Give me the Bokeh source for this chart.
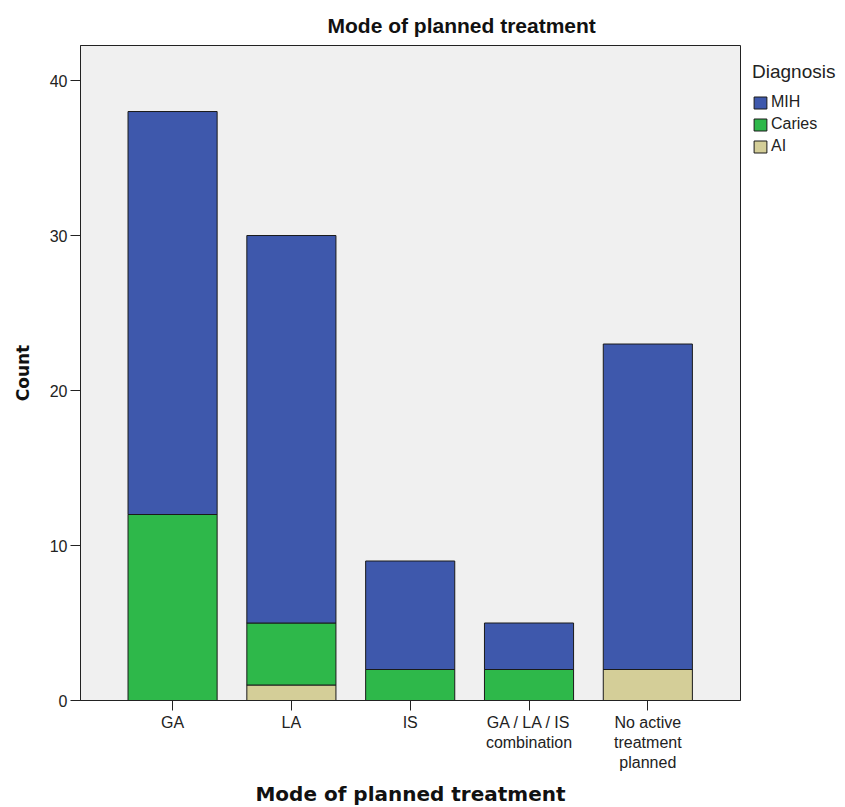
from bokeh.plotting import figure
from bokeh.models import (Legend, LegendItem, FixedTicker, Range1d, Title,
                          ColumnDataSource)
from bokeh.embed import file_html
from bokeh.resources import INLINE

# ---- data ----
categories = ["GA", "LA", "IS", "GA / LA / IS\ncombination",
              "No active\ntreatment\nplanned"]
ai_counts = [0, 1, 0, 0, 2]
caries_counts = [12, 4, 2, 2, 0]
mih_counts = [26, 25, 7, 3, 21]
y_ticks = [0, 10, 20, 30, 40]
legend_order = ["MIH", "Caries", "AI"]
colors = {"MIH": "#3E58AC", "Caries": "#2EB84A", "AI": "#D4CE98"}

xs = list(range(1, len(categories) + 1))
source = ColumnDataSource(dict(x=xs, AI=ai_counts, Caries=caries_counts,
                               MIH=mih_counts))

p = figure(frame_width=660, frame_height=655, output_backend="svg",
           toolbar_location=None,
           x_range=Range1d(0.225, 5.78), y_range=Range1d(0, 42.26),
           min_border_left=80, min_border_right=105, min_border_top=45,
           min_border_bottom=107)
p.background_fill_color = "#F0F0F0"
p.border_fill_color = "white"
p.outline_line_color = "#222222"
p.outline_line_width = 1
p.grid.visible = False

renderers = p.vbar_stack(["AI", "Caries", "MIH"], x="x", width=0.75,
                         source=source,
                         fill_color=[colors["AI"], colors["Caries"], colors["MIH"]],
                         line_color="#1a1a1a", line_width=1)
rmap = {"AI": renderers[0], "Caries": renderers[1], "MIH": renderers[2]}

p.title = Title(text="Mode of planned treatment", align="left", offset=247,
                text_font="Liberation Sans", text_font_size="21px",
                text_font_style="bold", text_color="#111111", standoff=18)

# x axis
p.xaxis.ticker = FixedTicker(ticks=xs)
p.xaxis.major_label_overrides = {x: c for x, c in zip(xs, categories)}
p.xaxis.major_tick_out = 10
p.xaxis.major_tick_in = 0
p.xaxis.minor_tick_out = 0
p.xaxis.minor_tick_in = 0
p.xaxis.axis_line_color = "#222222"
p.xaxis.major_tick_line_color = "#222222"
p.xaxis.major_label_text_font = "Liberation Sans"
p.xaxis.major_label_text_font_size = "16px"
p.xaxis.major_label_text_color = "#222222"
p.xaxis.major_label_standoff = 3
p.xaxis.axis_label = "Mode of planned treatment"
p.xaxis.axis_label_text_font = "DejaVu Sans"
p.xaxis.axis_label_text_font_size = "20px"
p.xaxis.axis_label_text_font_style = "bold"
p.xaxis.axis_label_text_color = "#111111"
p.xaxis.axis_label_standoff = 8

# y axis
p.yaxis.ticker = FixedTicker(ticks=y_ticks)
p.yaxis.major_tick_out = 10
p.yaxis.major_tick_in = 0
p.yaxis.minor_tick_out = 0
p.yaxis.minor_tick_in = 0
p.yaxis.axis_line_color = "#222222"
p.yaxis.major_tick_line_color = "#222222"
p.yaxis.major_label_text_font = "Liberation Sans"
p.yaxis.major_label_text_font_size = "16px"
p.yaxis.major_label_text_color = "#222222"
p.yaxis.major_label_standoff = 3
p.yaxis.axis_label = "Count"
p.yaxis.axis_label_text_font = "DejaVu Sans"
p.yaxis.axis_label_text_font_size = "17px"
p.yaxis.axis_label_text_font_style = "bold"
p.yaxis.axis_label_text_color = "#111111"
p.yaxis.axis_label_standoff = 14

legend = Legend(items=[LegendItem(label=k, renderers=[rmap[k]]) for k in legend_order],
                location=(12, 545), title="Diagnosis",
                title_text_font="Liberation Sans", title_text_font_size="19px",
                title_text_font_style="normal", title_text_color="#222222",
                title_standoff=10,
                label_text_font="Liberation Sans", label_text_font_size="16px",
                label_text_color="#222222",
                glyph_width=16, glyph_height=15, label_height=18,
                label_standoff=3, spacing=4, padding=0, margin=0,
                background_fill_alpha=0, border_line_alpha=0)
p.add_layout(legend, "right")

open("out.html", "w").write(file_html(p, INLINE))
